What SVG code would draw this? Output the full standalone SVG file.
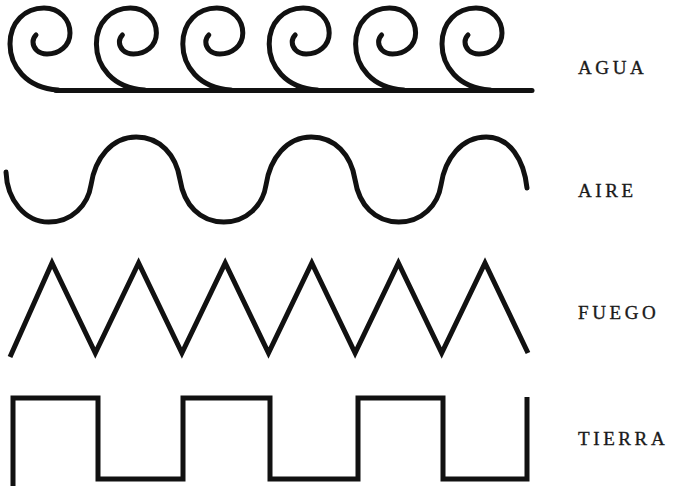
<svg xmlns="http://www.w3.org/2000/svg" width="674" height="487" viewBox="0 0 674 487">
<defs>
<style>
.ln{fill:none;stroke:#111;stroke-width:5;}
.lab{font-family:"Liberation Serif","Times New Roman",serif;font-size:19px;letter-spacing:3.6px;fill:#1a1a1a;stroke:#1a1a1a;stroke-width:0.35;}
</style>
<path id="spiral" d="M58 90 C26 88 10 66 10 44 C10 22 25 8 44 8 C60 8 70 20 70 33 C70 46 59 54 47 54 C38 54 33 48 33 42 C33 39 34 37 36 35"/>
</defs>
<rect width="674" height="487" fill="#fff"/>
<g id="agua">
<g class="ln" stroke-linecap="round">
<use href="#spiral"/>
<use href="#spiral" x="86.4"/>
<use href="#spiral" x="172.8"/>
<use href="#spiral" x="259.2"/>
<use href="#spiral" x="345.6"/>
<use href="#spiral" x="432"/>
<path d="M56 90.5 L532 90.5"/>
</g>
<text class="lab" x="578" y="74">AGUA</text>
</g>
<g id="aire">
<path class="ln" stroke-linecap="round" d="M6 172 C7 200 25 222 48.75 222 C72 222 88 205 91 185 C95 158 112 137 136.25 137 C160 137 176 155 180 179.5 C184 205 200 222 223.75 222 C247 222 263 205 266 185 C270 158 287 137 311.25 137 C335 137 351 155 355 179.5 C359 205 375 222 398.75 222 C422 222 438 205 441 185 C445 158 462 137 486.25 137 C510 137 524 160 527 188"/>
<text class="lab" x="578" y="197">AIRE</text>
</g>
<g id="fuego">
<path class="ln" stroke-linejoin="miter" d="M10 357 L52 263 L95.3 353 L138.6 263 L181.9 353 L225.2 263 L268.5 353 L311.8 263 L355.1 353 L398.4 263 L441.7 353 L485 263 L528 353"/>
<text class="lab" x="578" y="319">FUEGO</text>
</g>
<g id="tierra">
<path class="ln" stroke-linejoin="miter" d="M13 486 L13 398 L98 398 L98 479 L183 479 L183 398 L270 398 L270 479 L358 479 L358 398 L443 398 L443 479 L527 479 L527 397"/>
<text class="lab" x="578" y="445">TIERRA</text>
</g>
</svg>
